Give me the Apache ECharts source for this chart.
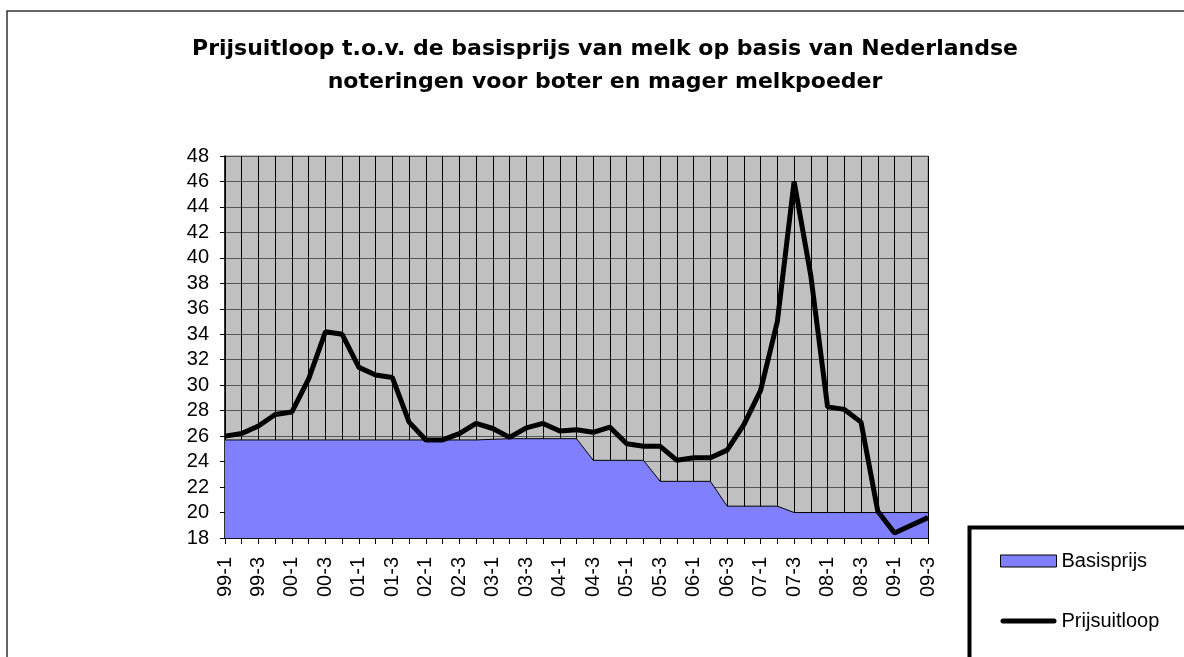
<!DOCTYPE html>
<html>
<head>
<meta charset="utf-8">
<script src="https://cdn.jsdelivr.net/npm/echarts@6/dist/echarts.min.js"></script>
<style>
  html, body { margin: 0; padding: 0; background: #fff; }
  #chart { width: 1184px; height: 657px; }
</style>
</head>
<body>
<div id="chart"></div>
<script>
var categories = [
    '99-1', '99-2', '99-3', '99-4', '00-1', '00-2', '00-3', '00-4',
    '01-1', '01-2', '01-3', '01-4', '02-1', '02-2', '02-3', '02-4',
    '03-1', '03-2', '03-3', '03-4', '04-1', '04-2', '04-3', '04-4',
    '05-1', '05-2', '05-3', '05-4', '06-1', '06-2', '06-3', '06-4',
    '07-1', '07-2', '07-3', '07-4', '08-1', '08-2', '08-3', '08-4',
    '09-1', '09-2', '09-3'
];

var basisprijs = [
    25.7, 25.7, 25.7, 25.7, 25.7, 25.7, 25.7, 25.7,
    25.7, 25.7, 25.7, 25.7, 25.7, 25.7, 25.7, 25.7,
    25.75, 25.8, 25.8, 25.8, 25.8, 25.8, 24.1, 24.1,
    24.1, 24.1, 22.45, 22.45, 22.45, 22.45, 20.5, 20.5,
    20.5, 20.5, 20.0, 20.0, 20.0, 20.0, 20.0, 20.0,
    20.0, 20.0, 20.0
];

var prijsuitloop = [
    26.0, 26.2, 26.8, 27.7, 27.9, 30.5, 34.2, 34.0,
    31.4, 30.8, 30.6, 27.1, 25.7, 25.7, 26.2, 27.0,
    26.6, 25.9, 26.65, 27.0, 26.4, 26.5, 26.3, 26.7,
    25.4, 25.2, 25.2, 24.1, 24.3, 24.3, 24.9, 26.9,
    29.6, 35.0, 46.0, 38.6, 28.3, 28.1, 27.1, 20.1,
    18.4, 19.0, 19.6
];

var titleLines = [
    'Prijsuitloop t.o.v. de basisprijs van melk op basis van Nederlandse',
    'noteringen voor boter en mager melkpoeder'
];

var font = 'Liberation Sans, Arial, sans-serif';

var chart = echarts.init(document.getElementById('chart'));
chart.setOption({
    animation: false,
    backgroundColor: '#fff',
    textStyle: { fontFamily: font },
    title: {
        text: titleLines.join('\n'),
        left: 600,
        top: 28,
        textAlign: 'center',
        textStyle: {
            fontFamily: 'DejaVu Sans, sans-serif',
            fontWeight: 'bold',
            fontSize: 22,
            lineHeight: 33,
            color: '#000'
        }
    },
    legend: {
        orient: 'vertical',
        left: 1000,
        top: 551,
        padding: 0,
        itemGap: 40,
        itemWidth: 56,
        itemHeight: 12,
        symbolKeepAspect: true,
        textStyle: { fontSize: 20, color: '#000', fontFamily: font },
        data: [
            { name: 'Basisprijs', icon: 'rect', itemStyle: { color: '#8080FF', borderColor: '#000', borderWidth: 1 } },
            {
                name: 'Prijsuitloop',
                icon: 'path://M2.5,0 L53.5,0 A2.5,2.5,0,0,1,53.5,5 L2.5,5 A2.5,2.5,0,0,1,2.5,0 Z',
                itemStyle: { color: '#000', borderWidth: 0 }
            }
        ]
    },
    grid: {
        left: 225,
        top: 156,
        width: 703,
        height: 382,
        show: true,
        backgroundColor: '#C0C0C0',
        borderColor: '#808080',
        borderWidth: 1
    },
    xAxis: {
        type: 'category',
        data: categories,
        boundaryGap: false,
        axisLine: { lineStyle: { color: '#000', width: 1.5 } },
        axisTick: { show: true, interval: 0, length: 6, lineStyle: { color: '#000' } },
        axisLabel: {
            interval: 1,
            rotate: 90,
            margin: 19,
            fontSize: 20,
            color: '#000',
            fontFamily: font
        },
        splitLine: { show: true, interval: 0, lineStyle: { color: '#000', width: 1 } }
    },
    yAxis: {
        type: 'value',
        min: 18,
        max: 48,
        interval: 2,
        axisLine: { show: true, lineStyle: { color: '#000', width: 1.5 } },
        axisTick: { show: true, length: 5, lineStyle: { color: '#000' } },
        axisLabel: { margin: 16, fontSize: 20, color: '#000', fontFamily: font },
        splitLine: { show: true, lineStyle: { color: '#555', width: 1.2 } }
    },
    series: [
        {
            name: 'Basisprijs',
            type: 'line',
            data: basisprijs,
            symbol: 'none',
            itemStyle: { color: '#8080FF' },
            lineStyle: { color: '#000', width: 1 },
            areaStyle: { color: '#8080FF', opacity: 1 },
            z: 2
        },
        {
            name: 'Prijsuitloop',
            type: 'line',
            data: prijsuitloop,
            symbol: 'none',
            itemStyle: { color: '#000' },
            lineStyle: { color: '#000', width: 5 },
            z: 3
        }
    ],
    graphic: [
        {
            type: 'rect',
            shape: { x: 7, y: 11, width: 1300, height: 800 },
            style: { fill: null, stroke: '#333', lineWidth: 1.5 },
            silent: true
        },
        {
            type: 'rect',
            shape: { x: 969.5, y: 527.5, width: 400, height: 400 },
            style: { fill: null, stroke: '#000', lineWidth: 4 },
            silent: true
        }
    ]
});
</script>
</body>
</html>
